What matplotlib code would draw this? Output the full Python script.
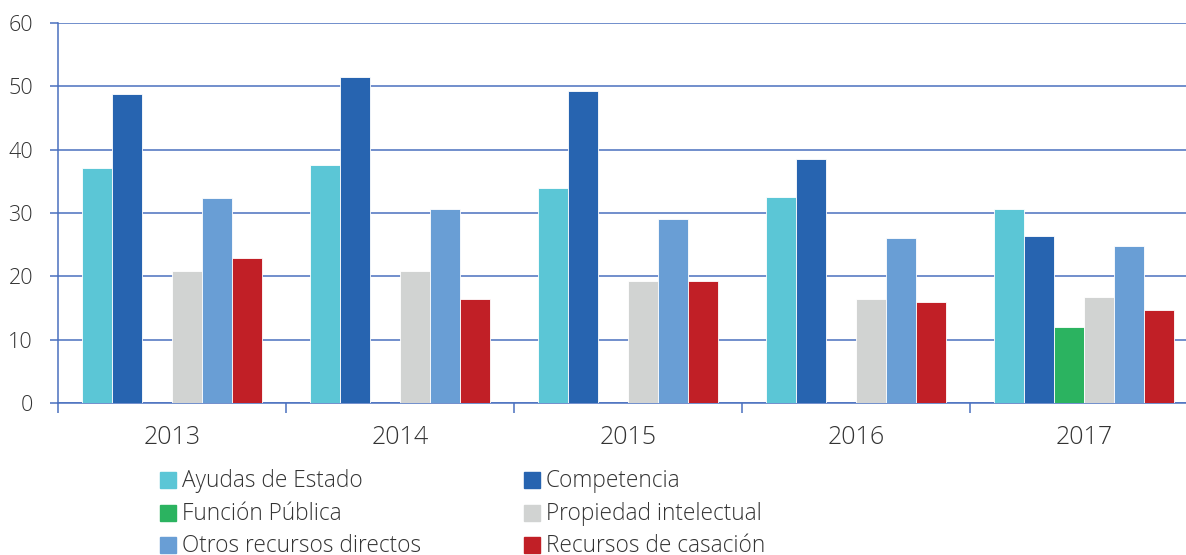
import numpy as np
import matplotlib.pyplot as plt
from matplotlib.patches import Rectangle

plt.rcParams["font.family"] = ["Open Sans", "DejaVu Sans"]
plt.rcParams["font.weight"] = "light"

# -----------------------------
# Data
# -----------------------------
years = ["2013", "2014", "2015", "2016", "2017"]
series_names = [
    "Ayudas de Estado",
    "Competencia",
    "Función Pública",
    "Propiedad intelectual",
    "Otros recursos directos",
    "Recursos de casación",
]
ayudas = [37.1, 37.6, 33.9, 32.5, 30.6]
competencia = [48.8, 51.4, 49.2, 38.5, 26.3]
funcion_publica = [0, 0, 0, 0, 12.0]
propiedad = [20.9, 20.9, 19.3, 16.5, 16.7]
otros = [32.4, 30.7, 29.1, 26.1, 24.8]
casacion = [22.9, 16.5, 19.2, 15.9, 14.7]

colors = ["#5bc6d6", "#2764b0", "#2bb360", "#d1d3d2", "#699ed5", "#c11f26"]
AXIS_BLUE = "#4a70bf"
TEXT = "#333333"

values = [ayudas, competencia, funcion_publica, propiedad, otros, casacion]

# -----------------------------
# Plot
# -----------------------------
fig = plt.figure(figsize=(11.86, 5.55), dpi=100)
ax = fig.add_axes([58 / 1186, 1 - 403 / 555, 1140 / 1186, 380 / 555])

x = np.arange(len(years))
bw = 30 / 228
for i, (vals, col) in enumerate(zip(values, colors)):
    offs = (i - 2.5) * bw
    ax.bar(x + offs, vals, width=bw, color=col, edgecolor="white", linewidth=0.6, zorder=3)

ax.set_xlim(-0.5, 4.5)
ax.set_ylim(0, 60)
ax.set_yticks(range(0, 61, 10))
ax.yaxis.grid(True, color=AXIS_BLUE, linewidth=1.1, zorder=0)
ax.set_axisbelow(True)

for s in ["top", "right"]:
    ax.spines[s].set_visible(False)
for s in ["left", "bottom"]:
    ax.spines[s].set_color(AXIS_BLUE)
    ax.spines[s].set_linewidth(1.1)

ax.tick_params(axis="y", length=6, width=1.1, color=AXIS_BLUE, pad=12,
               labelsize=15.5, labelcolor=TEXT)

ax.set_xticks(np.arange(-0.5, 5.0, 1.0))
ax.set_xticklabels([])
ax.set_xticks(x, minor=True)
ax.set_xticklabels(years, minor=True)
ax.tick_params(axis="x", which="major", length=7.5, width=1.1, color=AXIS_BLUE)
ax.tick_params(axis="x", which="minor", length=0, pad=16, labelsize=18, labelcolor=TEXT)

# legend drawn manually, two columns
col_x = [160, 524]
row_y = [480, 513, 545]
for i, (name, col) in enumerate(zip(series_names, colors)):
    cx = col_x[i % 2]
    cy = row_y[i // 2]
    fig.patches.append(Rectangle((cx / 1186, 1 - (cy + 8) / 555), 16 / 1186, 16 / 555,
                                 transform=fig.transFigure, color=col, figure=fig))
    fig.text((cx + 22) / 1186, 1 - (cy + 1) / 555, name, fontsize=16.3, color=TEXT,
             ha="left", va="center")

fig.savefig("out.png", dpi=100)
